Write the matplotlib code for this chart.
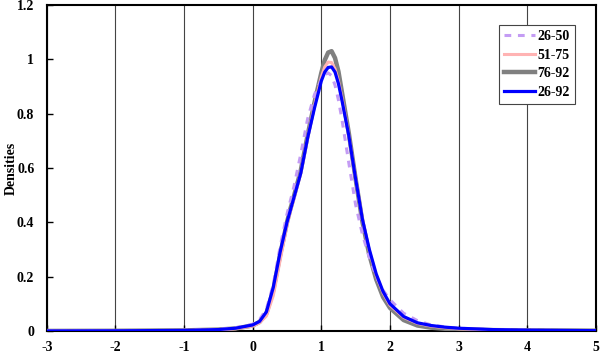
import matplotlib
matplotlib.use("Agg")
import matplotlib.pyplot as plt

plt.rcParams['font.family'] = ['Liberation Serif', 'DejaVu Serif']
plt.rcParams['font.weight'] = 'bold'
plt.rcParams['axes.unicode_minus'] = False

x = [-3, -2, -1, -0.5, -0.25, 0, 0.1, 0.2, 0.3, 0.4, 0.5, 0.55, 0.6, 0.7, 0.8, 0.9,
     1.0, 1.05, 1.1, 1.15, 1.2, 1.25, 1.3, 1.4, 1.5, 1.6, 1.7, 1.8, 1.9, 2.0,
     2.2, 2.4, 2.6, 2.8, 3.0, 3.5, 4, 5]

d_26_50 = [0.0, 0.0005, 0.002, 0.006, 0.012, 0.025, 0.042, 0.08, 0.17, 0.31, 0.43, 0.48, 0.53, 0.65, 0.78, 0.87,
           0.925, 0.943, 0.95, 0.94, 0.905, 0.85, 0.78, 0.62, 0.465, 0.355, 0.27, 0.2, 0.15, 0.115,
           0.065, 0.038, 0.022, 0.015, 0.01, 0.005, 0.003, 0.001]
d_51_75 = [0.0, 0.0005, 0.002, 0.004, 0.008, 0.018, 0.03, 0.055, 0.13, 0.26, 0.39, 0.44, 0.485, 0.58, 0.71, 0.83,
           0.935, 0.972, 0.99, 0.988, 0.965, 0.92, 0.86, 0.72, 0.56, 0.41, 0.295, 0.205, 0.14, 0.095,
           0.05, 0.028, 0.018, 0.012, 0.008, 0.004, 0.002, 0.001]
d_76_92 = [0.0, 0.0005, 0.002, 0.005, 0.009, 0.02, 0.033, 0.065, 0.15, 0.28, 0.4, 0.45, 0.495, 0.59, 0.72, 0.84,
           0.95, 0.997, 1.025, 1.03, 1.005, 0.955, 0.88, 0.73, 0.56, 0.4, 0.28, 0.19, 0.125, 0.085,
           0.04, 0.02, 0.012, 0.008, 0.006, 0.003, 0.002, 0.001]
d_26_92 = [0.0, 0.0005, 0.002, 0.005, 0.01, 0.022, 0.035, 0.07, 0.16, 0.29, 0.4, 0.445, 0.49, 0.58, 0.71, 0.82,
           0.92, 0.953, 0.97, 0.972, 0.953, 0.91, 0.85, 0.72, 0.56, 0.41, 0.3, 0.21, 0.145, 0.1,
           0.053, 0.03, 0.02, 0.014, 0.01, 0.005, 0.003, 0.001]

fig = plt.figure(figsize=(6, 3.57), dpi=100)
ax = fig.add_axes([0.078, 0.073, 0.915, 0.913])

ax.plot(x, d_76_92, color='#808080', lw=3.2, label='76-92', zorder=3)
ax.plot(x, d_51_75, color='#ffb3b3', lw=2.2, label='51-75', zorder=4)
ax.plot(x, d_26_50, color='#c49cf4', lw=2.2, ls=(0, (2.2, 2.2)), label='26-50', zorder=5)
ax.plot(x, d_26_92, color='#0000ff', lw=2.3, label='26-92', zorder=6)

ax.set_xlim(-3, 5)
ax.set_ylim(0, 1.2)
ax.set_xticks(range(-3, 6))
ax.set_yticks([0, 0.2, 0.4, 0.6, 0.8, 1, 1.2])
ax.set_yticklabels(['0', '0.2', '0.4', '0.6', '0.8', '1', '1.2'])
ax.tick_params(direction='in', length=4, width=1, labelsize=10)
ax.tick_params(axis='y', pad=9)
ax.tick_params(axis='x', pad=7)
for lab in ax.get_xticklabels() + ax.get_yticklabels():
    lab.set_fontweight('bold')
ax.xaxis.grid(True, color='#444444', lw=0.8)
ax.set_axisbelow(True)
for s in ax.spines.values():
    s.set_linewidth(1.5)
    s.set_color('black')

ax.set_ylabel('Densities', fontsize=10, fontweight='bold')
ax.yaxis.set_label_coords(-0.052, 0.5)

h, l = ax.get_legend_handles_labels()
order = [2, 1, 0, 3]
leg = ax.legend([h[i] for i in order], [l[i] for i in order],
                loc='upper right', bbox_to_anchor=(0.963, 0.94), borderaxespad=0,
                fancybox=False, framealpha=1, edgecolor='#444444',
                prop={'weight': 'bold', 'size': 10}, handlelength=2.2,
                handletextpad=0.2, labelspacing=0.4, borderpad=0.4)
leg.get_frame().set_linewidth(0.8)

fig.savefig('out.png', dpi=100)
